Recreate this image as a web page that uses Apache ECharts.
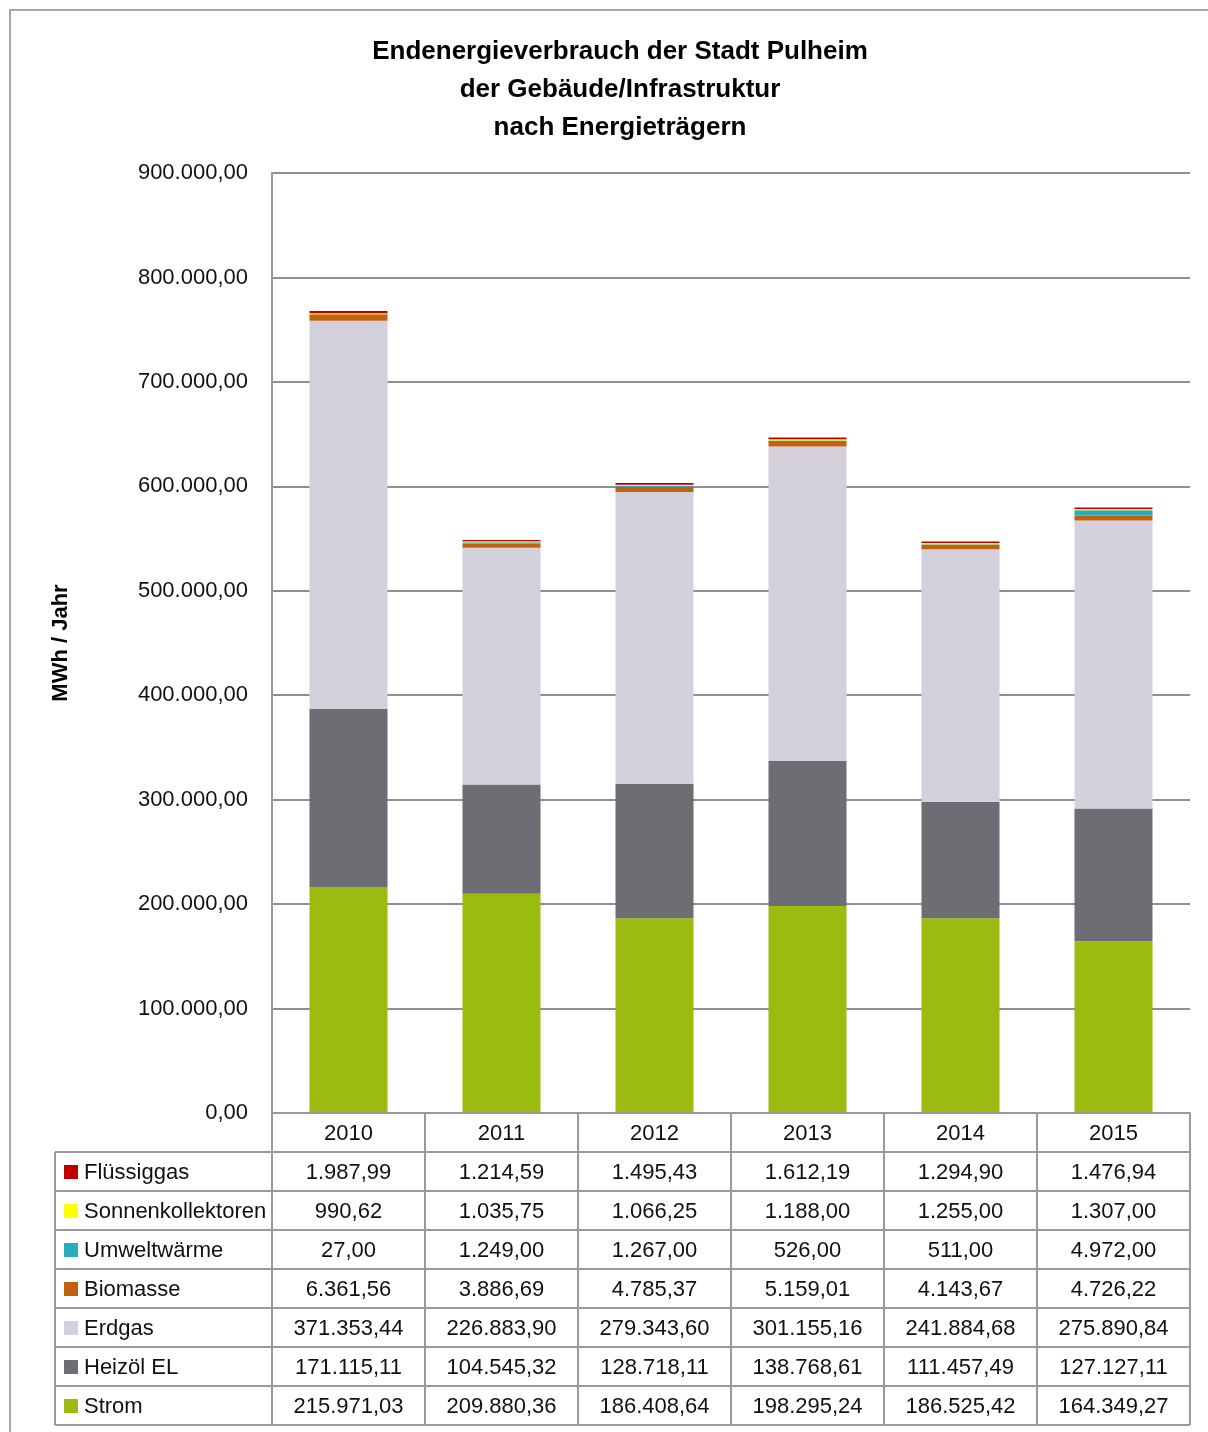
<!DOCTYPE html>
<html>
<head>
<meta charset="utf-8">
<script src="https://cdn.jsdelivr.net/npm/echarts@6/dist/echarts.min.js"></script>
<style>
  html, body { margin: 0; padding: 0; background: #fff; }
  #chart { width: 1208px; height: 1432px; }
</style>
</head>
<body>
<div id="chart"></div>
<script>
// Jahre (Kategorien)
const years = ['2010', '2011', '2012', '2013', '2014', '2015'];

// Endenergieverbrauch je Energieträger in MWh/Jahr
const strom       = [215971.03, 209880.36, 186408.64, 198295.24, 186525.42, 164349.27];
const heizoel     = [171115.11, 104545.32, 128718.11, 138768.61, 111457.49, 127127.11];
const erdgas      = [371353.44, 226883.90, 279343.60, 301155.16, 241884.68, 275890.84];
const biomasse    = [6361.56, 3886.69, 4785.37, 5159.01, 4143.67, 4726.22];
const umweltwaerme = [27.00, 1249.00, 1267.00, 526.00, 511.00, 4972.00];
const sonnenkoll  = [990.62, 1035.75, 1066.25, 1188.00, 1255.00, 1307.00];
const fluessiggas = [1987.99, 1214.59, 1495.43, 1612.19, 1294.90, 1476.94];

// Achsenbeschriftung
const yTicks = { min: 0, max: 900000, interval: 100000 };

// Stapelreihenfolge von unten nach oben
const stackSeries = [
  { name: 'Strom', data: strom, color: '#9BBB11' },
  { name: 'Heizöl EL', data: heizoel, color: '#6D6E73' },
  { name: 'Erdgas', data: erdgas, color: '#D3D0DC' },
  { name: 'Biomasse', data: biomasse, color: '#C0620F' },
  { name: 'Umweltwärme', data: umweltwaerme, color: '#2AACBF' },
  { name: 'Sonnenkollektoren', data: sonnenkoll, color: '#FFFF00' },
  { name: 'Flüssiggas', data: fluessiggas, color: '#C00000' }
];
// Tabellenzeilen von oben nach unten
const tableRows = stackSeries.slice().reverse();

function fmtDE(v) {
  const parts = v.toFixed(2).split('.');
  const intPart = parts[0].replace(/\B(?=(\d{3})+(?!\d))/g, '.');
  return intPart + ',' + parts[1];
}

const FONT = "'Liberation Sans', Arial, sans-serif";
const LINE = '#999999';

const chart = echarts.init(document.getElementById('chart'), null, { renderer: 'canvas' });

chart.setOption({
  animation: false,
  backgroundColor: '#ffffff',
  title: {
    text: 'Endenergieverbrauch der Stadt Pulheim\nder Gebäude/Infrastruktur\nnach Energieträgern',
    left: 615,
    top: 28,
    textAlign: 'center',
    textStyle: {
      fontFamily: FONT,
      fontWeight: 'bold',
      fontSize: 26,
      lineHeight: 38,
      color: '#000'
    }
  },
  grid: { left: 272, right: 18, top: 173, bottom: 319, containLabel: false },
  xAxis: {
    type: 'category',
    data: years,
    axisLine: { show: true, lineStyle: { color: LINE, width: 2 } },
    axisTick: { show: false },
    axisLabel: { show: false }
  },
  yAxis: {
    type: 'value',
    min: yTicks.min,
    max: yTicks.max,
    interval: yTicks.interval,
    name: 'MWh / Jahr',
    nameLocation: 'middle',
    nameRotate: 90,
    nameGap: 200,
    nameTextStyle: { fontFamily: FONT, fontWeight: 'bold', fontSize: 22, color: '#000' },
    axisLine: { show: true, lineStyle: { color: LINE, width: 2 } },
    axisTick: { show: false },
    axisLabel: {
      margin: 24,
      padding: [5, 0, 0, 0],
      fontFamily: FONT,
      fontSize: 22,
      color: '#111',
      formatter: v => fmtDE(v)
    },
    splitLine: { show: true, lineStyle: { color: '#8f8f8f', width: 2 } }
  },
  series: stackSeries.map(s => ({
    name: s.name,
    type: 'bar',
    stack: 'total',
    barWidth: '51%',
    data: s.data,
    itemStyle: { color: s.color }
  }))
});

// Datentabelle unterhalb der Achse, ausgerichtet an den Kategoriepositionen
function buildTable() {
  const centers = years.map((y, i) => chart.convertToPixel({ xAxisIndex: 0 }, i));
  const half = (centers[1] - centers[0]) / 2;
  const colLeft = centers[0] - half;
  const colRight = centers[centers.length - 1] + half;
  const y0 = chart.convertToPixel({ yAxisIndex: 0 }, 0);
  const yTop = chart.convertToPixel({ yAxisIndex: 0 }, yTicks.max);
  const rowH = 39;
  const legendLeft = 55;
  const nRows = tableRows.length;
  const yEnd = y0 + rowH * (nRows + 1);
  const els = [];
  const lineStyle = { stroke: LINE, lineWidth: 2 };

  // Rahmen um die gesamte Grafik
  els.push({ type: 'rect', shape: { x: 10, y: 10, width: 1300, height: 1500 },
    style: { fill: 'none', stroke: '#8a8a8a', lineWidth: 1.5 }, z: 10 });

  // horizontale Linien
  els.push({ type: 'line', shape: { x1: colLeft, y1: y0, x2: colRight, y2: y0 }, style: lineStyle, z: 10 });
  for (let r = 1; r <= nRows + 1; r++) {
    const y = y0 + r * rowH;
    els.push({ type: 'line', shape: { x1: legendLeft, y1: y, x2: colRight, y2: y }, style: lineStyle, z: 10 });
  }
  // vertikale Linien
  els.push({ type: 'line', shape: { x1: legendLeft, y1: y0 + rowH, x2: legendLeft, y2: yEnd }, style: lineStyle, z: 10 });
  for (let c = 0; c <= years.length; c++) {
    const x = colLeft + c * 2 * half;
    els.push({ type: 'line', shape: { x1: x, y1: c === 0 ? yTop : y0, x2: x, y2: yEnd }, style: lineStyle, z: 10 });
  }
  // Kopfzeile mit Jahren
  years.forEach((yr, i) => {
    els.push({ type: 'text', x: centers[i], y: y0 + rowH / 2 + 1,
      style: { text: yr, fill: '#111', font: '22px ' + FONT, textAlign: 'center', textVerticalAlign: 'middle' }, z: 11 });
  });
  // Datenzeilen
  tableRows.forEach((s, r) => {
    const cy = y0 + (r + 1) * rowH + rowH / 2 + 1;
    els.push({ type: 'rect', shape: { x: 64, y: cy - 7.5, width: 14, height: 14 }, style: { fill: s.color }, z: 11 });
    els.push({ type: 'text', x: 84, y: cy,
      style: { text: s.name, fill: '#111', font: '22px ' + FONT, textAlign: 'left', textVerticalAlign: 'middle' }, z: 11 });
    s.data.forEach((v, i) => {
      els.push({ type: 'text', x: centers[i], y: cy,
        style: { text: fmtDE(v), fill: '#111', font: '22px ' + FONT, textAlign: 'center', textVerticalAlign: 'middle' }, z: 11 });
    });
  });
  chart.setOption({ graphic: { elements: els } });
}
buildTable();
</script>
</body>
</html>
